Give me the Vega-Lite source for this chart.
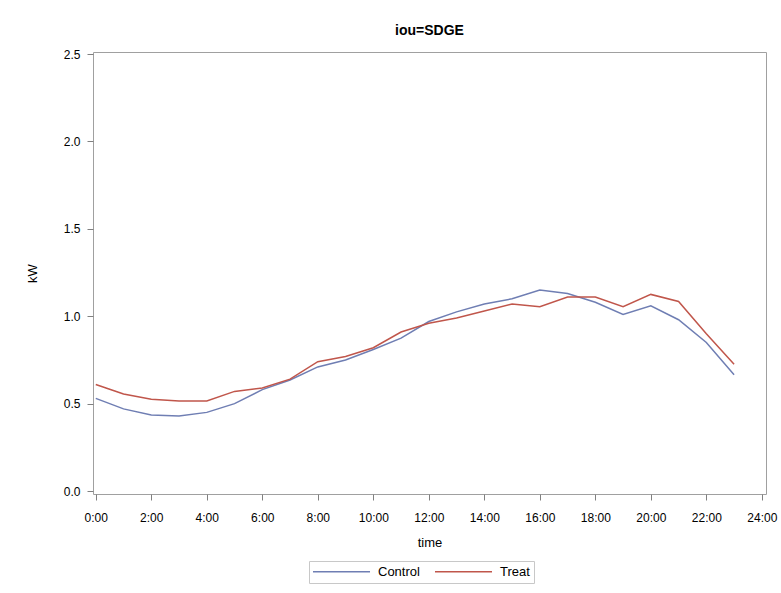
{
  "$schema": "https://vega.github.io/schema/vega-lite/v6.json",
  "width": 673,
  "height": 442,
  "autosize": {"type": "none"},
  "padding": {"left": 93, "top": 52, "right": 15, "bottom": 99},
  "background": "white",
  "title": {"text": "iou=SDGE", "font": "Liberation Sans", "fontSize": 14, "fontWeight": "bold", "color": "#000000", "offset": 10, "anchor": "middle"},
  "config": {
    "view": {"stroke": "#a0a0a0", "strokeWidth": 1},
    "axis": {"grid": false, "domain": false, "tickColor": "#808080", "tickSize": 6, "labelFont": "Liberation Sans", "labelFontSize": 12, "labelColor": "#000000", "titleFont": "Liberation Sans", "titleFontSize": 13, "titleFontWeight": "normal", "titleColor": "#000000"}
  },
  "data": {"values": [
    {"hour": 0, "group": "Control", "kW": 0.53},
    {"hour": 1, "group": "Control", "kW": 0.47},
    {"hour": 2, "group": "Control", "kW": 0.435},
    {"hour": 3, "group": "Control", "kW": 0.43},
    {"hour": 4, "group": "Control", "kW": 0.45},
    {"hour": 5, "group": "Control", "kW": 0.50},
    {"hour": 6, "group": "Control", "kW": 0.58},
    {"hour": 7, "group": "Control", "kW": 0.635},
    {"hour": 8, "group": "Control", "kW": 0.71},
    {"hour": 9, "group": "Control", "kW": 0.75},
    {"hour": 10, "group": "Control", "kW": 0.81},
    {"hour": 11, "group": "Control", "kW": 0.875},
    {"hour": 12, "group": "Control", "kW": 0.97},
    {"hour": 13, "group": "Control", "kW": 1.025},
    {"hour": 14, "group": "Control", "kW": 1.07},
    {"hour": 15, "group": "Control", "kW": 1.10},
    {"hour": 16, "group": "Control", "kW": 1.15},
    {"hour": 17, "group": "Control", "kW": 1.13},
    {"hour": 18, "group": "Control", "kW": 1.08},
    {"hour": 19, "group": "Control", "kW": 1.01},
    {"hour": 20, "group": "Control", "kW": 1.06},
    {"hour": 21, "group": "Control", "kW": 0.98},
    {"hour": 22, "group": "Control", "kW": 0.85},
    {"hour": 23, "group": "Control", "kW": 0.665},
    {"hour": 0, "group": "Treat", "kW": 0.61},
    {"hour": 1, "group": "Treat", "kW": 0.555},
    {"hour": 2, "group": "Treat", "kW": 0.525},
    {"hour": 3, "group": "Treat", "kW": 0.515},
    {"hour": 4, "group": "Treat", "kW": 0.515},
    {"hour": 5, "group": "Treat", "kW": 0.57},
    {"hour": 6, "group": "Treat", "kW": 0.59},
    {"hour": 7, "group": "Treat", "kW": 0.64},
    {"hour": 8, "group": "Treat", "kW": 0.74},
    {"hour": 9, "group": "Treat", "kW": 0.77},
    {"hour": 10, "group": "Treat", "kW": 0.82},
    {"hour": 11, "group": "Treat", "kW": 0.91},
    {"hour": 12, "group": "Treat", "kW": 0.96},
    {"hour": 13, "group": "Treat", "kW": 0.99},
    {"hour": 14, "group": "Treat", "kW": 1.03},
    {"hour": 15, "group": "Treat", "kW": 1.07},
    {"hour": 16, "group": "Treat", "kW": 1.055},
    {"hour": 17, "group": "Treat", "kW": 1.11},
    {"hour": 18, "group": "Treat", "kW": 1.11},
    {"hour": 19, "group": "Treat", "kW": 1.055},
    {"hour": 20, "group": "Treat", "kW": 1.125},
    {"hour": 21, "group": "Treat", "kW": 1.085},
    {"hour": 22, "group": "Treat", "kW": 0.90},
    {"hour": 23, "group": "Treat", "kW": 0.725}
  ]},
  "mark": {"type": "line", "strokeWidth": 1.5},
  "encoding": {
    "x": {"field": "hour", "type": "quantitative", "title": "time",
      "scale": {"domain": [-0.1, 24.15], "nice": false, "zero": false},
      "axis": {"values": [0, 2, 4, 6, 8, 10, 12, 14, 16, 18, 20, 22, 24], "labelExpr": "datum.value + ':00'", "titlePadding": 13, "labelPadding": 12}},
    "y": {"field": "kW", "type": "quantitative", "title": "kW",
      "scale": {"domain": [-0.017, 2.512], "nice": false, "zero": false},
      "axis": {"values": [0, 0.5, 1, 1.5, 2, 2.5], "format": ".1f", "titlePadding": 24, "labelPadding": 7}},
    "color": {"field": "group", "type": "nominal", "title": null,
      "scale": {"domain": ["Control", "Treat"], "range": ["#6f7eb3", "#c0564b"]},
      "legend": {"orient": "none", "legendX": 216, "legendY": 509, "direction": "horizontal", "symbolType": "M-5,0H5", "symbolSize": 130, "symbolStrokeWidth": 1.5, "symbolOffset": 22, "labelFont": "Liberation Sans", "labelFontSize": 13, "labelColor": "#000000", "labelOffset": 30, "strokeColor": "#c8c8c8", "padding": 4, "columnPadding": 11}}
  }
}
